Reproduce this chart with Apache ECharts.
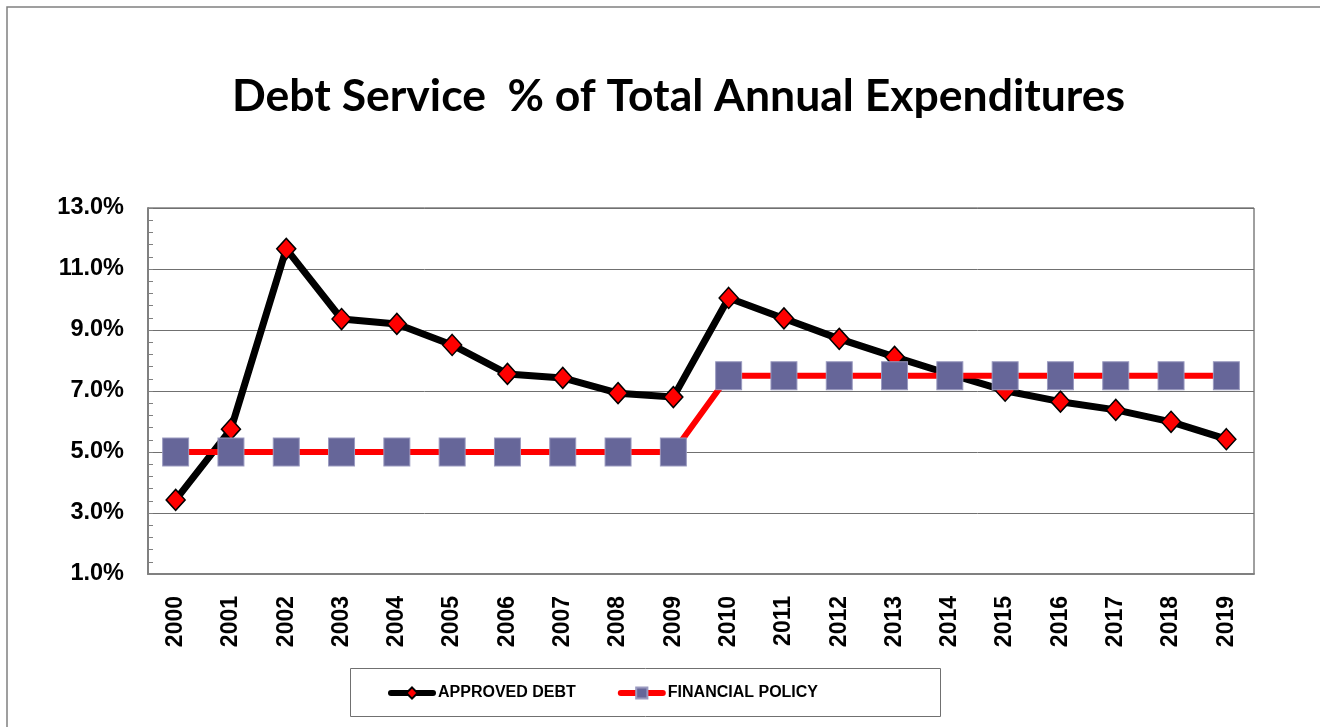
<!DOCTYPE html>
<html>
<head>
<meta charset="utf-8">
<script src="https://cdn.jsdelivr.net/npm/echarts@6/dist/echarts.min.js"></script>
<style>html,body{margin:0;padding:0;background:#fff}#c{width:1320px;height:727px}</style>
</head>
<body>
<div id="c"></div>
<script>
var years = ['2000','2001','2002','2003','2004','2005','2006','2007','2008','2009','2010','2011','2012','2013','2014','2015','2016','2017','2018','2019'];
var approvedDebt = [3.43, 5.75, 11.66, 9.36, 9.2, 8.51, 7.56, 7.43, 6.93, 6.8, 10.05, 9.38, 8.71, 8.12, 7.55, 7.01, 6.65, 6.38, 5.99, 5.42];
var financialPolicy = [5, 5, 5, 5, 5, 5, 5, 5, 5, 5, 7.5, 7.5, 7.5, 7.5, 7.5, 7.5, 7.5, 7.5, 7.5, 7.5];
var yTicks = {min: 1, max: 13, step: 2};
var titleText = 'Debt Service  % of Total Annual Expenditures';

var chart = echarts.init(document.getElementById('c'), null, {renderer: 'canvas'});
var lab = 'Liberation Sans';
chart.setOption({
  backgroundColor: '#fff',
  animation: false,
  title: {
    text: titleText,
    left: 232,
    top: 74,
    padding: 0,
    textStyle: {fontFamily: 'Lato', fontWeight: 'bold', fontSize: 44.5, color: '#000'}
  },
  graphic: [
    {type: 'rect', shape: {x: 7, y: 7, width: 1400, height: 800}, style: {fill: 'none', stroke: '#808080', lineWidth: 1.5}, z: -10},
    {type: 'rect', shape: {x: 350.5, y: 668.5, width: 590, height: 48}, style: {fill: '#fff', stroke: '#707070', lineWidth: 1}, z: -5}
  ],
  legend: {
    left: 388,
    top: 685,
    padding: 0,
    itemWidth: 42,
    itemHeight: 14,
    itemGap: 42,
    lineStyle: {width: 6, cap: 'round'},
    textStyle: {fontFamily: lab, fontWeight: 'bold', fontSize: 16, color: '#000'},
    data: ['APPROVED DEBT', 'FINANCIAL POLICY']
  },
  grid: {left: 148, right: 66, top: 208, bottom: 153, show: true, borderColor: '#404040', borderWidth: 1},
  xAxis: {
    type: 'category',
    data: years,
    boundaryGap: true,
    axisLine: {lineStyle: {color: '#808080', width: 2}},
    axisTick: {inside: true, length: 6, interval: 0, lineStyle: {color: '#808080', width: 1.5}},
    axisLabel: {rotate: 90, interval: 0, margin: 22, fontFamily: lab, fontWeight: 'bold', fontSize: 23, color: '#000'}
  },
  yAxis: {
    type: 'value',
    min: yTicks.min,
    max: yTicks.max,
    interval: yTicks.step,
    axisLine: {show: true, lineStyle: {color: '#808080', width: 2}},
    axisTick: {show: true, inside: true, length: 5, lineStyle: {color: '#808080'}},
    minorTick: {show: true, splitNumber: 5, length: 5, lineStyle: {color: '#808080'}},
    splitLine: {show: true, lineStyle: {color: '#707070', width: 1}},
    axisLabel: {margin: 24, fontFamily: lab, fontWeight: 'bold', fontSize: 23.5, color: '#000',
      padding: [3, 0, 0, 0],
      formatter: function (v) { return v.toFixed(1) + '%'; }}
  },
  series: [
    {
      name: 'APPROVED DEBT',
      type: 'line',
      data: approvedDebt,
      symbol: 'diamond',
      symbolSize: [19, 21],
      lineStyle: {color: '#000', width: 7},
      itemStyle: {color: '#ff0000', borderColor: '#000', borderWidth: 1.5},
      z: 2
    },
    {
      name: 'FINANCIAL POLICY',
      type: 'line',
      data: financialPolicy,
      symbol: 'rect',
      symbolSize: [26, 28],
      lineStyle: {color: '#ff0000', width: 6},
      itemStyle: {color: '#666699', borderColor: '#9a9ac0', borderWidth: 1},
      z: 3
    }
  ]
});
</script>
</body>
</html>
